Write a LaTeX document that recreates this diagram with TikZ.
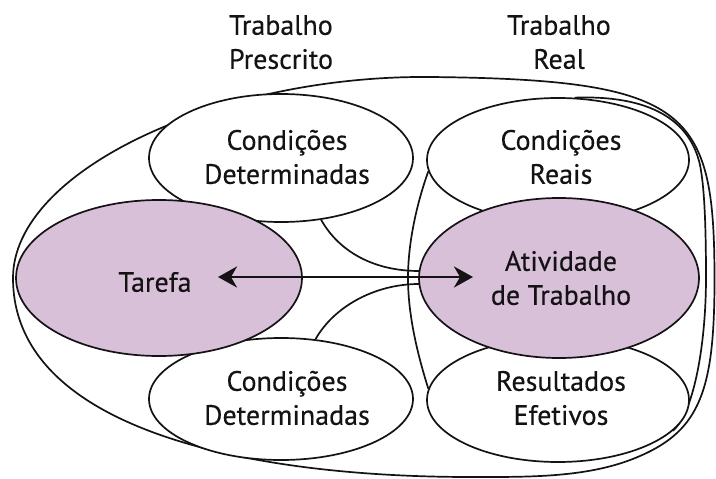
\documentclass[tikz,border=0pt]{standalone}
\usepackage{fontspec}
\setmainfont{PT Sans}[UprightFeatures={FakeBold=0.35}]
\usetikzlibrary{shapes.geometric,arrows.meta}
\definecolor{lilac}{RGB}{216,192,216}
\definecolor{ink}{RGB}{20,18,20}
\begin{document}
\begin{tikzpicture}[x=1pt,y=-1pt,
  txt/.style={align=center, inner sep=0pt, text=ink, font=\fontsize{28}{34}\selectfont},
  oval/.style={ellipse, draw=ink, line width=1.7pt, fill=white, inner sep=0pt},
  hl/.style={oval, fill=lilac},
  wire/.style={draw=ink, line width=1.7pt},
  dbl/.style={draw=ink, line width=2.6pt,
    {Stealth[length=19pt,width=21pt,inset=6pt]}-{Stealth[length=19pt,width=21pt,inset=6pt]}}]
\useasboundingbox (0,0) rectangle (716,479);

% outer contour
\draw[wire] (13,278) .. controls (13,170) and (220,75) .. (430,77)
  .. controls (690,79.5) and (714.5,110) .. (714.5,280)
  .. controls (714.5,390) and (700,430) .. (640,456)
  .. controls (590,478) and (530,477) .. (470,477)
  .. controls (250,477) and (13,430) .. (13,278) -- cycle;

% ellipses (drawn later cover the inner parts of the tall contour)
\node[oval, minimum width=264pt, minimum height=128pt] (ct) at (281,158) {};
\node[oval, minimum width=264pt, minimum height=122pt] (cb) at (281,399) {};
\node[oval, minimum width=262pt, minimum height=124pt, fill=none, draw=none] (cr) at (558,160) {};
\node[oval, minimum width=262pt, minimum height=124pt, fill=none, draw=none] (re) at (558,400) {};

% tall contour round the right column
\draw[wire] (cr.185) .. controls (418,200) and (408,240) .. (408,278)
  .. controls (408,316) and (418,356) .. (re.175);
\draw[wire] (re.-15) .. controls (695,411) and (706,340) .. (706,278)
  .. controls (706,220) and (704,185) .. (700,165)
  .. controls (690,120) and (650,95) .. (cr.75);

\node[oval, minimum width=262pt, minimum height=124pt] (cr2) at (cr.center) {};
\node[oval, minimum width=262pt, minimum height=124pt] (re2) at (re.center) {};

% funnel curves
\draw[wire] (ct.-57) .. controls +(18,32) and +(-45,0) .. (559-140,271);
\draw[wire] (cb.60) .. controls +(18,-32) and +(-45,0) .. (559-140,284);

% main ellipses
\node[hl, minimum width=286pt, minimum height=156pt] (ta) at (159,278) {};
\node[hl, minimum width=280pt, minimum height=160pt] (at) at (559,278) {};

% arrow
\coordinate (aL) at (218,277);
\coordinate (aR) at (473,277);
\draw[dbl] (aL) -- (aR);

% texts
\node[txt] (t1) at (281,45) {\strut Trabalho\\Prescrito\strut};
\node[txt] (t2) at (559,45) {\strut Trabalho\\Real\strut};
\node[txt] (tct) at (287,160) {\strut Condições\\Determinadas\strut};
\node[txt] (tcr) at (561,160) {\strut Condições\\Reais\strut};
\node[txt] (tta) at (155,285) {\strut Tarefa\strut};
\node[txt] (tat) at (561,281) {\strut Atividade\\de Trabalho\strut};
\node[txt] (tcb) at (287,401) {\strut Condições\\Determinadas\strut};
\node[txt] (tre) at (561,401) {\strut Resultados\\Efetivos\strut};
\end{tikzpicture}
\end{document}
